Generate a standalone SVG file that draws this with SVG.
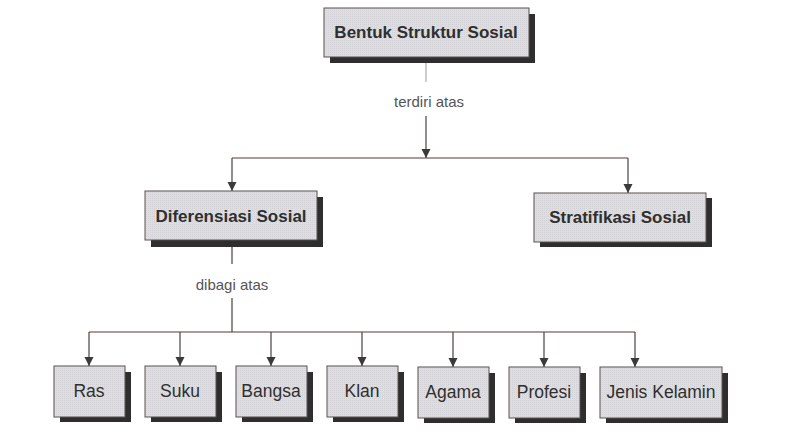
<svg xmlns="http://www.w3.org/2000/svg" width="800" height="439" viewBox="0 0 800 439">
<defs>
<pattern id="stip" width="2" height="2" patternUnits="userSpaceOnUse">
<rect width="2" height="2" fill="#dedee2"/>
<rect width="1" height="1" fill="#d2d2d6"/>
</pattern>
<marker id="arr" viewBox="0 0 10 10" refX="10" refY="5" markerWidth="9" markerHeight="12" markerUnits="userSpaceOnUse" orient="auto">
<path d="M0,0 L10,5 L0,10 Z" fill="#3a3a3a"/>
</marker>
</defs>
<style>
.box{fill:url(#stip);stroke:#5a5050;stroke-width:1}
.sh{fill:#2e2e2e}
.t{font-family:"Liberation Sans",Arial,sans-serif;fill:#2f2f2f;text-anchor:middle}
.b{font-weight:bold;font-size:17px}
.r{font-size:17.5px}
.lbl{font-family:"Liberation Sans",Arial,sans-serif;fill:#555;text-anchor:middle;font-size:15px}
.c{fill:none;stroke:#4a4040;stroke-width:1.2}
.h{stroke:#5a3a30}
</style>
<rect width="800" height="439" fill="#ffffff"/>
<g id="connectors">
<line class="c" x1="426" y1="63" x2="426" y2="82" style="stroke:#aaa"/>
<line class="c" x1="426" y1="116" x2="426" y2="158" marker-end="url(#arr)"/>
<line class="c h" x1="232" y1="158" x2="628" y2="158"/>
<line class="c" x1="232" y1="158" x2="232" y2="191" marker-end="url(#arr)"/>
<line class="c" x1="628" y1="158" x2="628" y2="193" marker-end="url(#arr)"/>
<line class="c" x1="232" y1="247" x2="232" y2="264"/>
<line class="c" x1="232" y1="298" x2="232" y2="332"/>
<line class="c h" x1="89" y1="332" x2="635" y2="332"/>
<line class="c" x1="89" y1="332" x2="89" y2="366" marker-end="url(#arr)"/>
<line class="c" x1="180" y1="332" x2="180" y2="366" marker-end="url(#arr)"/>
<line class="c" x1="271" y1="332" x2="271" y2="366" marker-end="url(#arr)"/>
<line class="c" x1="362" y1="332" x2="362" y2="366" marker-end="url(#arr)"/>
<line class="c" x1="453" y1="332" x2="453" y2="367" marker-end="url(#arr)"/>
<line class="c" x1="544" y1="332" x2="544" y2="367" marker-end="url(#arr)"/>
<line class="c" x1="635" y1="332" x2="635" y2="367" marker-end="url(#arr)"/>
<text class="lbl" x="429" y="107">terdiri atas</text>
<text class="lbl" x="232" y="290">dibagi atas</text>
</g>
<g id="n-bentuk">
<rect class="sh" x="330" y="14" width="205" height="49"/>
<rect class="box" x="324" y="8" width="205" height="49"/>
<text class="t b" x="426" y="38">Bentuk Struktur Sosial</text>
</g>
<g id="n-diferensiasi">
<rect class="sh" x="151" y="197" width="172" height="50"/>
<rect class="box" x="145" y="191" width="172" height="49"/>
<text class="t b" x="231" y="222">Diferensiasi Sosial</text>
</g>
<g id="n-stratifikasi">
<rect class="sh" x="540" y="198" width="172" height="49"/>
<rect class="box" x="534" y="193" width="172" height="49"/>
<text class="t b" x="620" y="223">Stratifikasi Sosial</text>
</g>
<g id="n-ras">
<rect class="sh" x="60" y="372" width="71" height="50"/>
<rect class="box" x="54" y="366" width="71" height="51"/>
<text class="t r" x="89" y="397">Ras</text>
</g>
<g id="n-suku">
<rect class="sh" x="151" y="372" width="71" height="50"/>
<rect class="box" x="145" y="366" width="71" height="51"/>
<text class="t r" x="180" y="397">Suku</text>
</g>
<g id="n-bangsa">
<rect class="sh" x="242" y="372" width="71" height="50"/>
<rect class="box" x="236" y="366" width="71" height="51"/>
<text class="t r" x="271" y="397">Bangsa</text>
</g>
<g id="n-klan">
<rect class="sh" x="333" y="372" width="71" height="50"/>
<rect class="box" x="327" y="366" width="71" height="51"/>
<text class="t r" x="362" y="397">Klan</text>
</g>
<g id="n-agama">
<rect class="sh" x="424" y="373" width="71" height="50"/>
<rect class="box" x="418" y="367" width="71" height="51"/>
<text class="t r" x="453" y="398">Agama</text>
</g>
<g id="n-profesi">
<rect class="sh" x="515" y="373" width="71" height="50"/>
<rect class="box" x="509" y="367" width="71" height="51"/>
<text class="t r" x="544" y="398">Profesi</text>
</g>
<g id="n-jenis">
<rect class="sh" x="606" y="373" width="122" height="50"/>
<rect class="box" x="600" y="367" width="122" height="51"/>
<text class="t r" x="661" y="398">Jenis Kelamin</text>
</g>
</svg>
